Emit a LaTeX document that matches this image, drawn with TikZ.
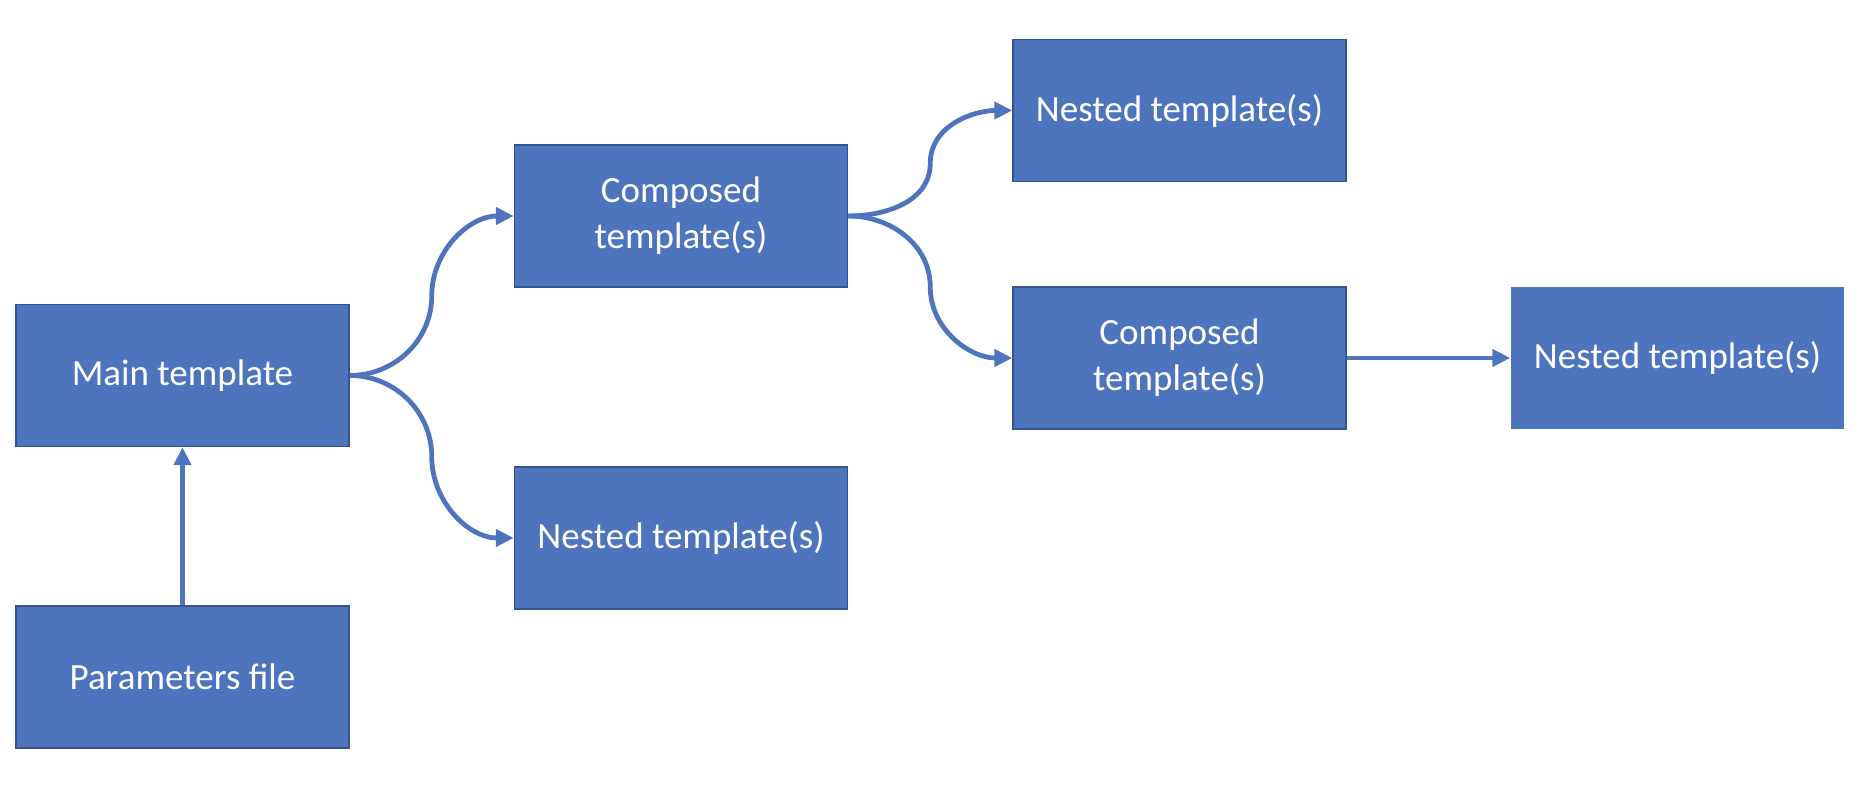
\documentclass[tikz,border=0pt]{standalone}
\usepackage{fontspec}
\setmainfont{Carlito}
\usetikzlibrary{arrows.meta,calc}
\definecolor{boxblue}{HTML}{4E74BE}
\definecolor{boxedge}{HTML}{34548F}
\tikzset{
  tbox/.style={rectangle, fill=boxblue, draw=boxedge, line width=1.5pt,
    minimum width=333pt, minimum height=142pt, inner sep=0pt,
    text=white, align=center, font=\fontsize{37}{46}\selectfont},
  conn/.style={draw=boxblue, line width=4.8pt, -{Triangle[length=18pt,width=17pt]}}
}
\begin{document}
\begin{tikzpicture}[x=1pt,y=1pt]
\useasboundingbox (0,0) rectangle (1866,794);
\node[tbox] (main) at (182.5,418.5) {Main template};
\node[tbox] (params) at (182.5,117) {Parameters file};
\node[tbox] (comp1) at (681,578) {Composed\\template(s)};
\node[tbox] (nest1) at (681,256) {Nested template(s)};
\node[tbox] (nest2) at (1179.5,683.5) {Nested template(s)};
\node[tbox] (comp2) at (1179.5,436) {Composed\\template(s)};
\node[tbox, draw=none] (nest3) at (1677.5,436) {Nested template(s)};

\coordinate (m1) at ($(main.east)!0.5!(comp1.west)$);
\coordinate (m2) at ($(main.east)!0.5!(nest1.west)$);
\coordinate (m3) at ($(comp1.east)!0.5!(nest2.west)$);
\coordinate (m4) at ($(comp1.east)!0.5!(comp2.west)$);

\draw[conn] (params.north) -- (main.south);
\draw[conn] (main.east) to[out=0,in=-90] (m1) to[out=90,in=180] (comp1.west);
\draw[conn] (main.east) to[out=0,in=90] (m2) to[out=-90,in=180] (nest1.west);
\draw[conn] (comp1.east) to[out=0,in=-90] (m3) to[out=90,in=180] (nest2.west);
\draw[conn] (comp1.east) to[out=0,in=90] (m4) to[out=-90,in=180] (comp2.west);
\draw[conn] (comp2.east) -- (nest3.west);
\end{tikzpicture}
\end{document}
